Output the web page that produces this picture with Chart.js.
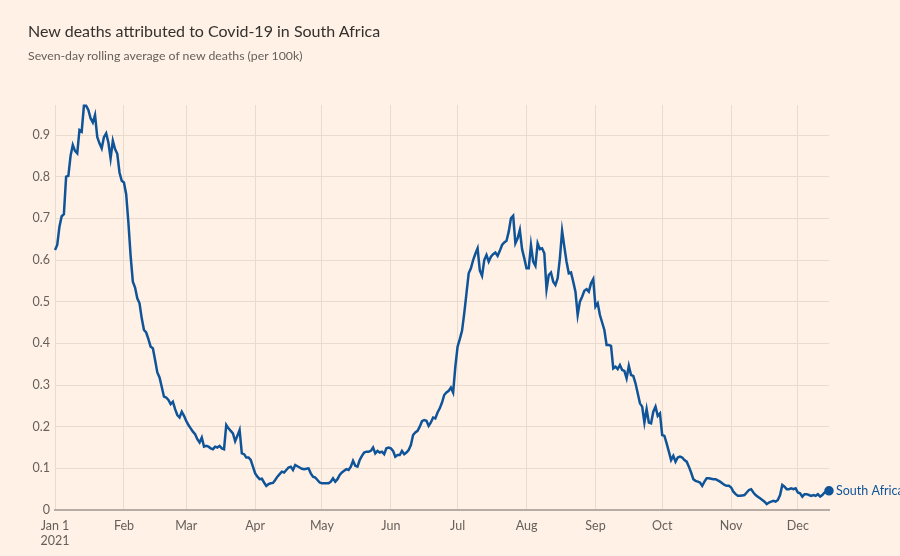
<!DOCTYPE html>
<html>
<head>
<meta charset="utf-8">
<script src="https://cdn.jsdelivr.net/npm/chart.js@4.4.0/dist/chart.umd.min.js"></script>
<style>
  html, body { margin: 0; padding: 0; background: #fff1e5; }
  #wrap { position: relative; width: 900px; height: 556px; background: #fff1e5; overflow: hidden; }
  #title { position: absolute; left: 28px; top: 21px; font-family: Lato, "Open Sans", sans-serif; font-size: 16px; color: #33302e; white-space: nowrap; }
  #subtitle { position: absolute; left: 28px; top: 48px; font-family: Lato, "Open Sans", sans-serif; font-size: 12.3px; color: #66605c; white-space: nowrap; }
  canvas { position: absolute; left: 0; top: 0; }
</style>
</head>
<body>
<div id="wrap">
  <canvas id="c" width="900" height="556"></canvas>
  <div id="title">New deaths attributed to Covid-19 in South Africa</div>
  <div id="subtitle">Seven-day rolling average of new deaths (per 100k)</div>
</div>
<script>
// Seven-day rolling average of new deaths per 100k, daily values by month (2021)
const jan = [0.624,0.636,0.68,0.705,0.71,0.80,0.802,0.85,0.876,0.862,0.856,0.912,0.908,0.97,0.97,0.96,0.94,0.93,0.948,0.895,0.88,0.868,0.895,0.904,0.882,0.844,0.886,0.866,0.855,0.81,0.79];
const feb = [0.786,0.758,0.69,0.61,0.548,0.534,0.508,0.496,0.46,0.432,0.426,0.41,0.392,0.388,0.36,0.33,0.318,0.295,0.272,0.27,0.264,0.254,0.26,0.242,0.228,0.222,0.236,0.226];
const mar = [0.214,0.204,0.196,0.188,0.182,0.17,0.162,0.174,0.152,0.154,0.152,0.148,0.146,0.152,0.15,0.154,0.148,0.146,0.204,0.196,0.19,0.184,0.165,0.178,0.192,0.136,0.134,0.126,0.126,0.12,0.104];
const apr = [0.088,0.08,0.074,0.075,0.066,0.058,0.062,0.064,0.065,0.072,0.08,0.086,0.092,0.09,0.096,0.102,0.104,0.096,0.108,0.105,0.102,0.099,0.098,0.099,0.1,0.088,0.08,0.078,0.072,0.066];
const may = [0.064,0.064,0.064,0.064,0.068,0.076,0.068,0.074,0.084,0.09,0.094,0.098,0.096,0.104,0.118,0.106,0.104,0.12,0.13,0.138,0.14,0.14,0.142,0.15,0.136,0.142,0.138,0.14,0.134,0.148,0.15];
const jun = [0.148,0.142,0.128,0.132,0.132,0.142,0.134,0.138,0.144,0.156,0.18,0.186,0.19,0.2,0.213,0.216,0.214,0.202,0.21,0.222,0.22,0.234,0.244,0.258,0.276,0.282,0.286,0.294,0.282,0.344];
const jul = [0.392,0.41,0.43,0.472,0.52,0.568,0.58,0.60,0.615,0.628,0.575,0.562,0.60,0.612,0.596,0.608,0.614,0.618,0.61,0.622,0.636,0.642,0.646,0.668,0.70,0.706,0.64,0.652,0.672,0.626,0.604];
const aug = [0.58,0.58,0.636,0.596,0.586,0.64,0.626,0.628,0.616,0.53,0.564,0.57,0.548,0.54,0.556,0.604,0.67,0.632,0.596,0.568,0.57,0.548,0.524,0.468,0.50,0.512,0.526,0.53,0.524,0.544,0.554];
const sep = [0.488,0.496,0.468,0.45,0.432,0.396,0.396,0.394,0.34,0.344,0.338,0.348,0.336,0.334,0.316,0.346,0.324,0.322,0.304,0.28,0.256,0.248,0.21,0.242,0.21,0.208,0.236,0.248,0.226,0.232];
const oct = [0.18,0.178,0.16,0.14,0.12,0.13,0.116,0.126,0.128,0.126,0.12,0.116,0.104,0.09,0.074,0.07,0.068,0.066,0.058,0.068,0.076,0.076,0.075,0.074,0.074,0.071,0.068,0.064,0.06,0.058,0.058];
const nov = [0.054,0.044,0.038,0.034,0.034,0.035,0.036,0.042,0.048,0.05,0.042,0.036,0.032,0.028,0.024,0.02,0.014,0.018,0.02,0.022,0.02,0.024,0.036,0.06,0.056,0.05,0.05,0.052,0.05,0.052];
const dec = [0.042,0.04,0.032,0.038,0.038,0.036,0.034,0.036,0.034,0.038,0.032,0.036,0.042,0.044,0.046];

// Tick positions (day of year, 0 = Jan 1) and labels
const monthStarts = [0,31,59,90,120,151,181,212,243,273,304,334];
const monthLabels = [["Jan 1","2021"],"Feb","Mar","Apr","May","Jun","Jul","Aug","Sep","Oct","Nov","Dec"];
const yTicks = [0,0.1,0.2,0.3,0.4,0.5,0.6,0.7,0.8,0.9];
const seriesName = "South Africa";

const values = [].concat(jan,feb,mar,apr,may,jun,jul,aug,sep,oct,nov,dec);
const points = values.map((v,i)=>({x:i,y:v}));
const lastIdx = values.length - 1;

const FONT = 'Lato, "Open Sans", sans-serif';
const GREY = '#66605c';
const BLUE = '#0f5499';

const endLabel = {
  id: 'endLabel',
  afterDatasetsDraw(chart) {
    const meta = chart.getDatasetMeta(0);
    const el = meta.data[lastIdx];
    if (!el) return;
    const ctx = chart.ctx;
    ctx.save();
    ctx.font = '12.5px ' + FONT;
    ctx.fillStyle = BLUE;
    ctx.textBaseline = 'middle';
    ctx.textAlign = 'left';
    ctx.fillText(seriesName, el.x + 7, el.y);
    ctx.restore();
  }
};

new Chart(document.getElementById('c'), {
  type: 'line',
  data: {
    datasets: [{
      label: seriesName,
      data: points,
      borderColor: BLUE,
      backgroundColor: BLUE,
      borderWidth: 2.5,
      pointRadius: (c) => c.dataIndex === lastIdx ? 3.5 : 0,
      pointHoverRadius: 0,
      tension: 0,
      clip: false
    }]
  },
  options: {
    responsive: false,
    animation: false,
    layout: { padding: { left: 0, right: 71, top: 105, bottom: 0 } },
    plugins: { legend: { display: false }, tooltip: { enabled: false }, title: { display: false } },
    scales: {
      x: {
        type: 'linear',
        min: 0,
        max: lastIdx,
        afterBuildTicks: (s) => { s.ticks = monthStarts.map(v => ({ value: v })); },
        afterFit: (s) => { s.height = 46; },
        ticks: {
          autoSkip: false,
          maxRotation: 0,
          padding: 8,
          color: GREY,
          font: { family: FONT, size: 12.5 },
          callback: (v, i) => monthLabels[i]
        },
        grid: { color: '#e9dccf', lineWidth: 1, drawTicks: false },
        border: { display: true, color: '#b8ada4', width: 2 }
      },
      y: {
        min: 0,
        max: 0.972,
        afterBuildTicks: (s) => { s.ticks = yTicks.map(v => ({ value: v })); },
        afterFit: (s) => { s.width = 55; },
        ticks: {
          padding: 5,
          color: GREY,
          font: { family: FONT, size: 12.5 },
          callback: (v) => String(v)
        },
        grid: { color: '#e9dccf', lineWidth: 1, drawTicks: false },
        border: { display: false }
      }
    }
  },
  plugins: [endLabel]
});
</script>
</body>
</html>
